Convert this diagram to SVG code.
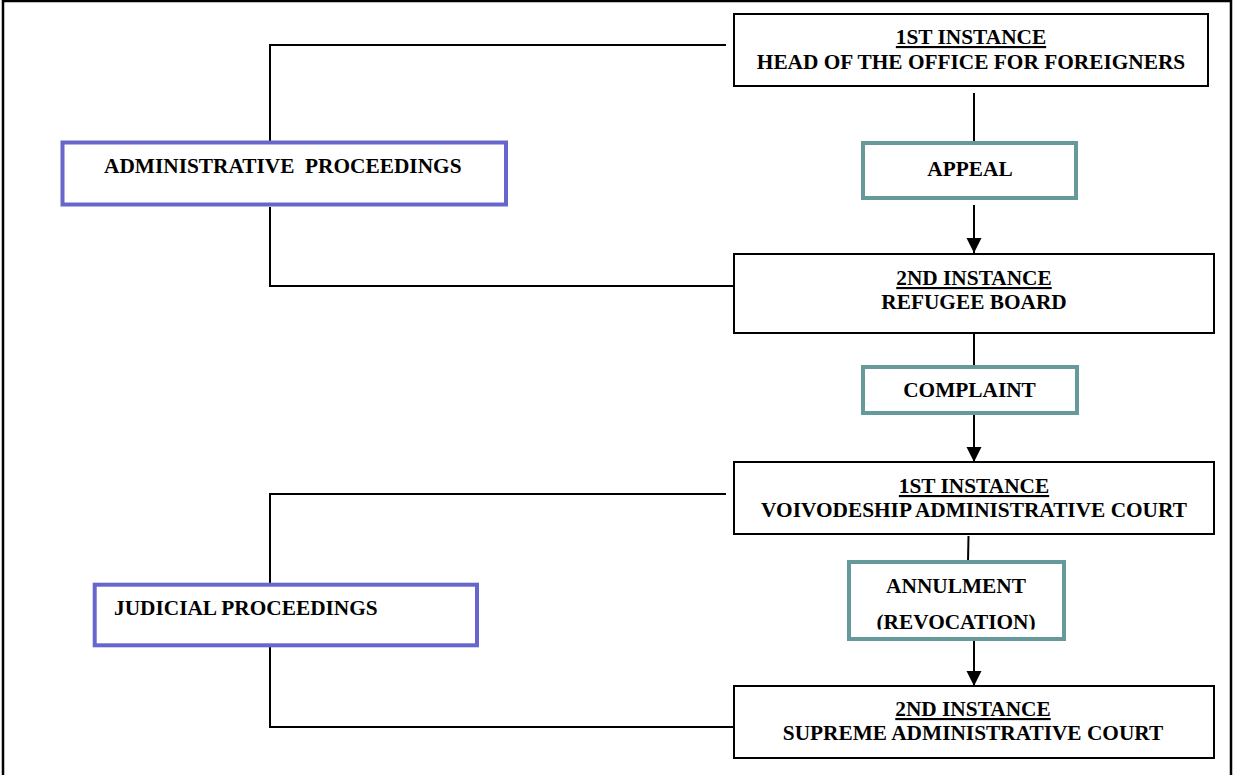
<svg xmlns="http://www.w3.org/2000/svg" width="1233" height="775" viewBox="0 0 1233 775">
  <style>
    .t { font-family: "Liberation Serif", "Times New Roman", serif; font-weight: bold; font-size: 21.33px; fill: #000; }
    .c { text-anchor: middle; }
    .u { text-decoration: underline; }
    .box { fill: #fff; stroke: #000; stroke-width: 2; }
    .act { fill: #fff; stroke: #669999; stroke-width: 4; }
    .grp { fill: #fff; stroke: #6666cc; stroke-width: 4; }
    .ln { fill: none; stroke: #000; stroke-width: 2; }
  </style>
  <defs>
    <marker id="arr" markerUnits="userSpaceOnUse" markerWidth="16" markerHeight="16" refX="15" refY="7.5" orient="auto">
      <path d="M0,0 L15,7.5 L0,15 Z" fill="#000"/>
    </marker>
    <clipPath id="revclip">
      <rect x="849" y="600" width="215" height="29.5"/>
    </clipPath>
  </defs>
  <rect x="0" y="0" width="1233" height="775" fill="#fff"/>
  <rect x="3" y="1" width="1228" height="800" fill="none" stroke="#000" stroke-width="2.5"/>

  <g id="connectors">
    <polyline class="ln" points="726,45 270,45 270,141"/>
    <polyline class="ln" points="270,207 270,286 733,286"/>
    <polyline class="ln" points="726,494 270,494 270,583"/>
    <polyline class="ln" points="270,647 270,727 733,727"/>
    <line class="ln" x1="974" y1="93" x2="974" y2="141"/>
    <line class="ln" x1="974" y1="205" x2="974" y2="253" marker-end="url(#arr)"/>
    <line class="ln" x1="974" y1="333" x2="974" y2="365"/>
    <line class="ln" x1="974" y1="415" x2="974" y2="462" marker-end="url(#arr)"/>
    <line class="ln" x1="968.5" y1="536" x2="968" y2="562"/>
    <line class="ln" x1="974" y1="638" x2="974" y2="686" marker-end="url(#arr)"/>
  </g>

  <g id="admin">
    <rect class="grp" x="62.5" y="142.5" width="443.5" height="62"/>
    <text class="t" x="104" y="173" xml:space="preserve">ADMINISTRATIVE  PROCEEDINGS</text>
  </g>
  <g id="judicial">
    <rect class="grp" x="94.7" y="584.7" width="382.3" height="60.6"/>
    <text class="t" x="114" y="615">JUDICIAL PROCEEDINGS</text>
  </g>

  <g id="head-office">
    <rect class="box" x="734" y="14" width="474" height="72"/>
    <text class="t c u" x="971" y="44">1ST INSTANCE</text>
    <text class="t c" x="971" y="69">HEAD OF THE OFFICE FOR FOREIGNERS</text>
  </g>
  <g id="appeal">
    <rect class="act" x="863" y="143" width="213" height="55"/>
    <text class="t c" x="970" y="176">APPEAL</text>
  </g>
  <g id="refugee-board">
    <rect class="box" x="734" y="254" width="480" height="79"/>
    <text class="t c u" x="974" y="285">2ND INSTANCE</text>
    <text class="t c" x="974" y="309">REFUGEE BOARD</text>
  </g>
  <g id="complaint">
    <rect class="act" x="863" y="367" width="214" height="46"/>
    <text class="t c" x="969.5" y="397">COMPLAINT</text>
  </g>
  <g id="voivodeship-court">
    <rect class="box" x="734" y="462" width="480" height="72"/>
    <text class="t c u" x="974" y="493">1ST INSTANCE</text>
    <text class="t c" x="974" y="517">VOIVODESHIP ADMINISTRATIVE COURT</text>
  </g>
  <g id="annulment">
    <rect class="act" x="849" y="562" width="215" height="77"/>
    <text class="t c" x="956" y="593">ANNULMENT</text>
    <text class="t c" x="956" y="629" clip-path="url(#revclip)">(REVOCATION)</text>
  </g>
  <g id="supreme-court">
    <rect class="box" x="734" y="686" width="480" height="72"/>
    <text class="t c u" x="973" y="716">2ND INSTANCE</text>
    <text class="t c" x="973" y="740">SUPREME ADMINISTRATIVE COURT</text>
  </g>
</svg>
